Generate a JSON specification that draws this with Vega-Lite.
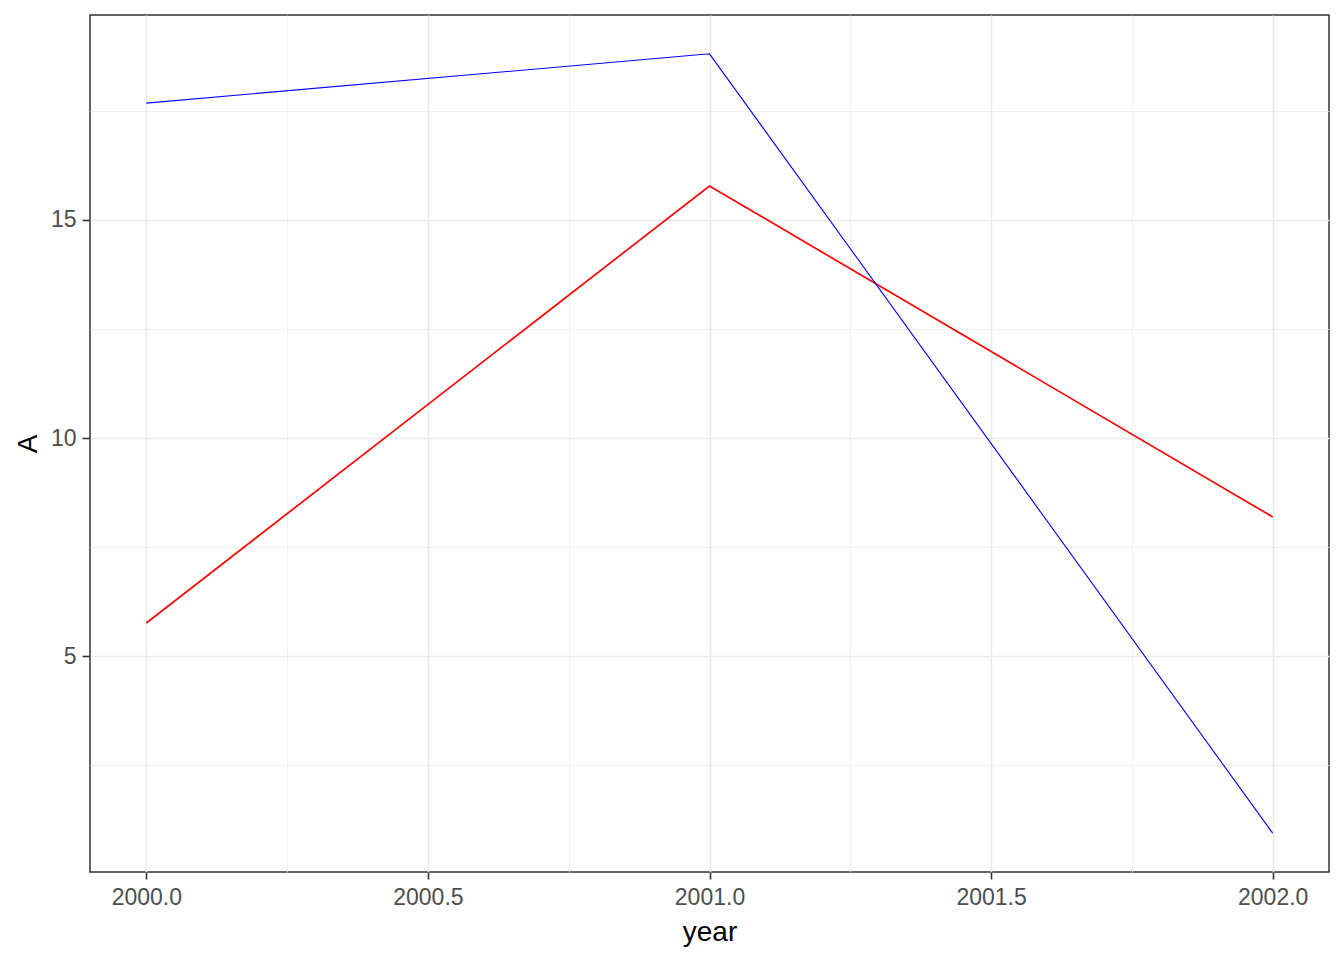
{
  "$schema": "https://vega.github.io/schema/vega-lite/v6.json",
  "width": 1239,
  "height": 857,
  "autosize": {"type": "none"},
  "padding": {"left": 90, "top": 15, "right": 15, "bottom": 88},
  "background": "white",
  "config": {
    "view": {"stroke": "#333333", "strokeWidth": 1.5},
    "font": "Liberation Sans"
  },
  "data": {
    "values": [
      {"year": 2000, "A": 17.68, "series": "blue"},
      {"year": 2001, "A": 18.81, "series": "blue"},
      {"year": 2002, "A": 0.94, "series": "blue"},
      {"year": 2000, "A": 5.76, "series": "red"},
      {"year": 2001, "A": 15.78, "series": "red"},
      {"year": 2002, "A": 8.19, "series": "red"}
    ]
  },
  "resolve": {"axis": {"x": "independent", "y": "independent"}},
  "layer": [
    {
      "transform": [{"filter": "datum.series === 'red'"}],
      "mark": {"type": "line", "color": "#FF0000", "strokeWidth": 1.7},
      "encoding": {
        "x": {
          "field": "year", "type": "quantitative",
          "scale": {"domain": [1999.9, 2002.1], "nice": false, "zero": false},
          "axis": {
            "values": [2000, 2000.5, 2001, 2001.5, 2002],
            "format": ".1f",
            "title": "year",
            "domain": false,
            "grid": true, "gridColor": "#EBEBEB", "gridWidth": 1.6,
            "ticks": true, "tickColor": "#333333", "tickSize": 7, "tickWidth": 1.6,
            "labelFont": "Liberation Sans", "labelFontSize": 23, "labelColor": "#4D4D4D", "labelPadding": 7,
            "titleFont": "Liberation Sans", "titleFontSize": 28, "titleFontWeight": "normal", "titleColor": "#000000", "titlePadding": 9
          }
        },
        "y": {
          "field": "A", "type": "quantitative",
          "scale": {"domain": [0.05, 19.7], "nice": false, "zero": false},
          "axis": {
            "values": [5, 10, 15],
            "title": "A",
            "domain": false,
            "grid": true, "gridColor": "#EBEBEB", "gridWidth": 1.6,
            "ticks": true, "tickColor": "#333333", "tickSize": 8, "tickWidth": 1.6,
            "labelFont": "Liberation Sans", "labelFontSize": 23, "labelColor": "#4D4D4D", "labelPadding": 6,
            "titleFont": "Liberation Sans", "titleFontSize": 28, "titleFontWeight": "normal", "titleColor": "#000000", "titlePadding": 8
          }
        }
      }
    },
    {
      "transform": [{"filter": "datum.series === 'blue'"}],
      "mark": {"type": "line", "color": "#0000FF", "strokeWidth": 1.1},
      "encoding": {
        "x": {
          "field": "year", "type": "quantitative",
          "axis": {
            "values": [2000.25, 2000.75, 2001.25, 2001.75],
            "title": null, "labels": false, "ticks": false, "domain": false,
            "grid": true, "gridColor": "#EBEBEB", "gridWidth": 0.8
          }
        },
        "y": {
          "field": "A", "type": "quantitative",
          "axis": {
            "values": [2.5, 7.5, 12.5, 17.5],
            "title": null, "labels": false, "ticks": false, "domain": false,
            "grid": true, "gridColor": "#EBEBEB", "gridWidth": 0.8
          }
        }
      }
    }
  ]
}
